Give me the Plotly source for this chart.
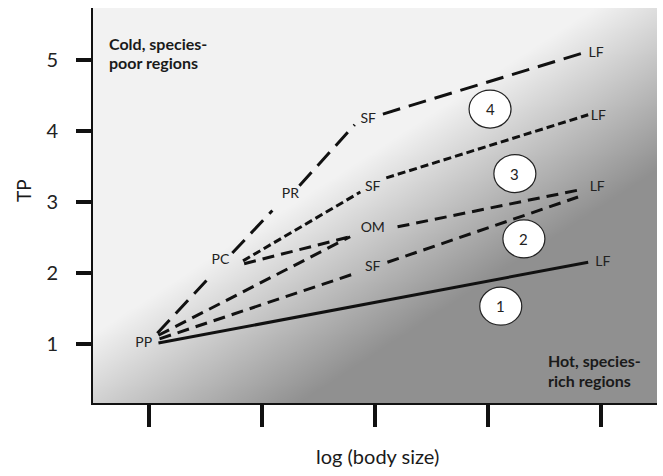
import numpy as np
import plotly.graph_objects as go

# ---------------- data ----------------
x_ticks = [1, 2, 3, 4, 5]
y_ticks = [1, 2, 3, 4, 5]

# pathway 4 (long dash): PP -> PC -> PR -> SF -> LF (gaps at the node labels)
l4_x = [1.07, 1.54, None, 1.735, 2.09, None, 2.33, 2.82, None, 3.07, 4.88]
l4_y = [1.15, 1.95, None, 2.28, 2.88, None, 3.23, 4.09, None, 4.24, 5.12]
# pathway 3 (short dash): PC -> SF -> LF
l3_x = [1.83, 2.87, None, 3.10, 4.89]
l3_y = [2.17, 3.14, None, 3.34, 4.23]
# pathway 2 (medium dash): PC -> OM, PP -> OM, OM -> LF, PP -> SF, SF -> LF
l2_x = [1.84, 2.78, None, 1.08, 2.78, None, 3.20, 4.84, None, 1.09, 2.82, None, 3.11, 4.80]
l2_y = [2.13, 2.51, None, 1.12, 2.51, None, 2.65, 3.18, None, 1.07, 1.99, None, 2.15, 3.07]
# pathway 1 (solid): PP -> LF
l1_x = [1.08, 4.89]
l1_y = [1.01, 2.15]

node_text = ["PP", "PC", "PR", "SF", "LF", "SF", "LF", "OM", "LF", "SF", "LF"]
node_x = [0.95, 1.63, 2.25, 2.94, 4.96, 2.98, 4.98, 2.98, 4.97, 2.98, 5.02]
node_y = [1.00, 2.17, 3.10, 4.16, 5.09, 3.21, 4.20, 2.62, 3.20, 2.08, 2.15]

circle_text = ["1", "2", "3", "4"]
circle_x = [4.115, 4.32, 4.24, 4.02]
circle_y = [1.53, 2.48, 3.40, 4.31]

X_RANGE = [0.5, 5.5]
Y_RANGE = [0.165, 5.736]

FONT = "Lato"
INK = "#111111"

W, H = 663, 476
ML, MR, MT, MB = 93, 6, 8, 73
PW, PH = W - ML - MR, H - MT - MB

fig = go.Figure()

# ---------------- background gradient (decoration) ----------------
gx = np.linspace(0.45, 5.55, 141)
gy = np.linspace(0.1, 5.8, 141)
GX, GY = np.meshgrid(gx, gy)
PX = ML + (GX - X_RANGE[0]) / (X_RANGE[1] - X_RANGE[0]) * PW
PY = MT + (Y_RANGE[1] - GY) / (Y_RANGE[1] - Y_RANGE[0]) * PH
s = 0.545 * PX + 0.838 * PY
t = np.clip((500 - s) / 170, 0, 1)
fig.add_trace(go.Heatmap(
    x=gx, y=gy, z=t, zmin=0, zmax=1, zsmooth="best",
    colorscale=[[0, "rgb(144,144,144)"], [1, "rgb(242,242,242)"]],
    showscale=False, hoverinfo="skip",
))

# ---------------- pathway lines ----------------
fig.add_trace(go.Scatter(x=l4_x, y=l4_y, mode="lines",
                         line=dict(color=INK, width=3, dash="18px,9px"), hoverinfo="skip"))
fig.add_trace(go.Scatter(x=l3_x, y=l3_y, mode="lines",
                         line=dict(color=INK, width=3, dash="8px,4px"), hoverinfo="skip"))
fig.add_trace(go.Scatter(x=l2_x, y=l2_y, mode="lines",
                         line=dict(color=INK, width=3, dash="12px,7px"), hoverinfo="skip"))
fig.add_trace(go.Scatter(x=l1_x, y=l1_y, mode="lines",
                         line=dict(color=INK, width=3), hoverinfo="skip"))

# node labels
fig.add_trace(go.Scatter(x=node_x, y=node_y, mode="text", text=node_text,
                         textfont=dict(family=FONT, size=14, color="#222"),
                         textposition="middle center", hoverinfo="skip"))

# numbered ellipses
shapes = []
annotations = []
for cx, cy, ct in zip(circle_x, circle_y, circle_text):
    shapes.append(dict(type="circle", xref="x", yref="y",
                       xsizemode="pixel", ysizemode="pixel",
                       xanchor=cx, yanchor=cy, x0=-21, x1=21, y0=-19, y1=19,
                       fillcolor="white", line=dict(color="#222", width=1.2),
                       layer="above"))
    annotations.append(dict(text=ct, x=cx, y=cy, xref="x", yref="y",
                            showarrow=False, xanchor="center", yanchor="middle",
                            font=dict(family=FONT, size=15, color="#222")))


def pxy(px, py):
    return (px - ML) / PW, (H - MB - py) / PH


def note(text, px, py, size, xanchor="left", angle=0, bold=False):
    ax, ay = pxy(px, py)
    annotations.append(dict(text=f"<b>{text}</b>" if bold else text,
                            xref="paper", yref="paper", x=ax, y=ay,
                            xanchor=xanchor, yanchor="middle", textangle=angle,
                            showarrow=False,
                            font=dict(family=FONT, size=size, color="#1a1a1a")))


note("Cold, species-", 107, 43, 16, bold=True)
note("poor regions", 107, 63, 16, bold=True)
note("Hot, species-", 546, 360, 16, bold=True)
note("rich regions", 546, 380, 16, bold=True)
note("TP", 23, 191, 19, xanchor="center", angle=-90)
note("log (body size)", 377, 456, 20, xanchor="center")

fig.update_layout(
    width=W, height=H,
    margin=dict(l=ML, r=MR, t=MT, b=MB),
    paper_bgcolor="white", plot_bgcolor="rgb(242,242,242)",
    showlegend=False,
    shapes=shapes, annotations=annotations,
    font=dict(family=FONT, color="#222"),
)
fig.update_xaxes(range=X_RANGE, tickvals=x_ticks, showticklabels=False,
                 ticks="outside", ticklen=22, tickwidth=4, tickcolor=INK,
                 showline=True, linewidth=2, linecolor=INK,
                 showgrid=False, zeroline=False, fixedrange=True)
fig.update_yaxes(range=Y_RANGE, tickvals=y_ticks,
                 ticks="outside", ticklen=15, tickwidth=4, tickcolor=INK,
                 ticklabelstandoff=14,
                 tickfont=dict(family=FONT, size=20, color="#222"),
                 showline=True, linewidth=2, linecolor=INK,
                 showgrid=False, zeroline=False, fixedrange=True)

fig.write_html("out.html", config={"displayModeBar": False},
               post_script="document.body.style.margin='0px';")
